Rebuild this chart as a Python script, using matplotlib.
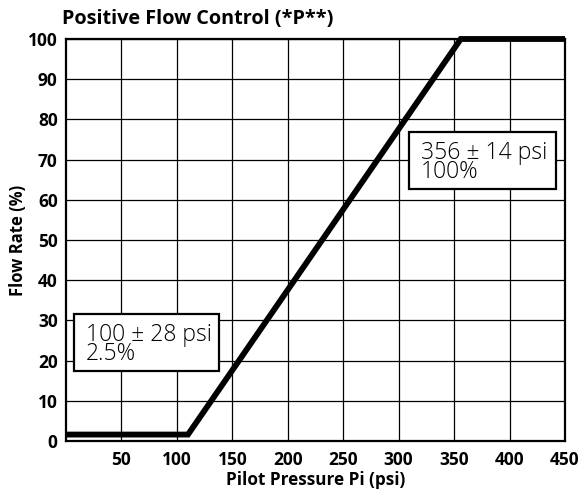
import matplotlib.pyplot as plt
from matplotlib.patches import Rectangle

# Flow response curve of the positive flow control
pressure = [0, 110, 356, 450]
flow = [1.6, 1.6, 100, 100]

x_ticks = [50, 100, 150, 200, 250, 300, 350, 400, 450]
y_ticks = [0, 10, 20, 30, 40, 50, 60, 70, 80, 90, 100]

notes = [
    {"text": "100 ± 28 psi\n2.5%", "box": (7.2, 17.4, 130.8, 14.2)},
    {"text": "356 ± 14 psi\n100%", "box": (309.3, 62.7, 132.5, 14.2)},
]

plt.rcParams["font.family"] = ["Open Sans", "DejaVu Sans"]

fig = plt.figure(figsize=(5.82, 4.93), dpi=100)
ax = fig.add_axes([0.1134, 0.1055, 0.8574, 0.8154])

ax.set_xlim(0, 450)
ax.set_ylim(0, 100)
ax.set_xticks(x_ticks)
ax.set_yticks(y_ticks)
ax.tick_params(axis="x", length=0, labelsize=12.5, pad=7)
ax.tick_params(axis="y", length=0, labelsize=12.5, pad=6)
for lbl in ax.get_xticklabels() + ax.get_yticklabels():
    lbl.set_fontweight("bold")
ax.grid(True, color="black", linewidth=0.9)
ax.set_axisbelow(True)
for sp in ax.spines.values():
    sp.set_linewidth(1.6)

ax.plot(pressure, flow, color="black", linewidth=4.2, solid_capstyle="butt",
        solid_joinstyle="miter", zorder=3, clip_on=False)

for note in notes:
    x0, y0, w, h = note["box"]
    ax.add_patch(Rectangle((x0, y0), w, h, facecolor="white", edgecolor="black",
                           linewidth=1.6, zorder=4))
    ax.text(x0 + 10.5, y0 + h / 2 - 0.5, note["text"], fontsize=16.5, va="center",
            ha="left", linespacing=0.75, fontweight="light", zorder=5)

ax.set_xlabel("Pilot Pressure Pi (psi)", fontsize=12.3, fontweight="bold", labelpad=2)
ax.set_ylabel("Flow Rate (%)", fontsize=12, fontweight="bold")
ax.yaxis.set_label_coords(-0.078, 0.5)
fig.text(0.107, 0.962, "Positive Flow Control (*P**)", fontsize=14.3,
         fontweight="bold", ha="left", va="center")

fig.savefig("out.png", dpi=100)
